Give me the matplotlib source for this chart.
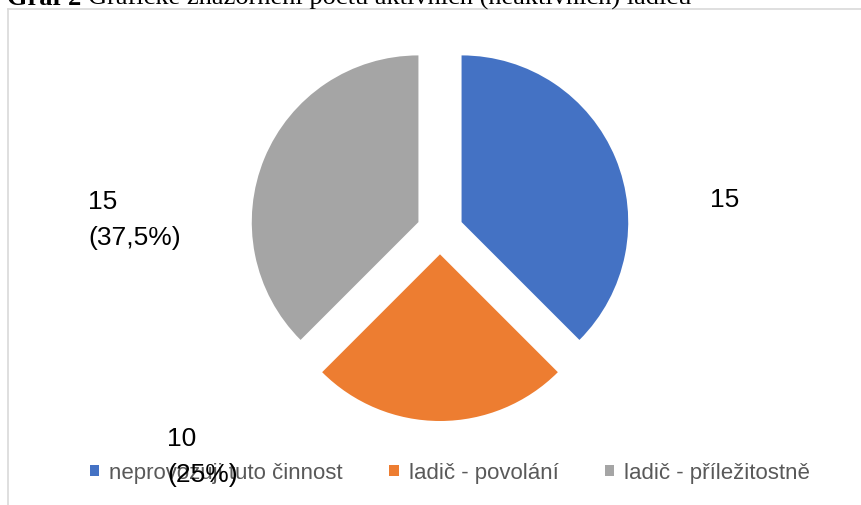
"""
Pie chart: active / inactive tuners (Graf 2).
"""
import matplotlib
matplotlib.use('Agg')
import matplotlib.pyplot as plt
from matplotlib.lines import Line2D
from matplotlib.patches import Patch

# Data
categories = ['neprovozuji tuto činnost', 'ladič - povolání', 'ladič - příležitostně']
values = [15, 10, 15]
colors = ['#4472C4', '#ED7D31', '#A5A5A5']
show_pct = [False, True, True]

title_bold = 'Graf 2 '
title_rest = 'Grafické znázornění počtu aktivních (neaktivních) ladičů'

W, H = 861, 506
fig = plt.figure(figsize=(W / 100, H / 100), dpi=100)
fig.patch.set_facecolor('white')

def fx(px):
    return px / W

def fy(py):
    return 1 - py / H

# chart frame (top and left edges visible only)
fig.add_artist(Line2D([fx(8), 1], [fy(10), fy(10)], color='#d9d9d9', lw=1.2))
fig.add_artist(Line2D([fx(8), fx(8)], [fy(10), 0], color='#d9d9d9', lw=1.2))

# pie axes: square box of 400px centred on (440, 232)
cx, cy, half = 440, 232, 200
ax = fig.add_axes([fx(cx - half), fy(cy + half), 2 * half / W, 2 * half / H])
ax.pie(values, colors=colors, startangle=90, counterclock=False,
       explode=[0.14] * len(values),
       wedgeprops=dict(linewidth=0))
ax.set_xlim(-1.2, 1.2)
ax.set_ylim(-1.2, 1.2)
ax.axis('off')

# data labels (position = baseline of the last line)
total = sum(values)
label_pos = [(710, 207), (167, 482), (88, 245)]
lab_font = dict(family='Liberation Sans', fontsize=19, color='#000000')
for v, show, (px, py) in zip(values, show_pct, label_pos):
    txt = str(v)
    if show:
        pct = ('%.1f' % (100 * v / total)).rstrip('0').rstrip('.').replace('.', ',')
        txt += '\n(' + pct + '%)'
    fig.text(fx(px), fy(py), txt, ha='left', va='baseline', linespacing=1.65,
             zorder=10, **lab_font)

# legend
handles = [Patch(facecolor=c, edgecolor='none') for c in colors]
leg = fig.legend(handles, categories, loc='center', bbox_to_anchor=(fx(450), fy(474)),
                 ncol=3, frameon=False, handlelength=0.42, handleheight=0.42,
                 handletextpad=0.45, columnspacing=2.1,
                 prop={'family': 'Liberation Sans', 'size': 16})
for t in leg.get_texts():
    t.set_color('#595959')

# title, cut off at the top of the picture
t1 = fig.text(fx(7), fy(5), title_bold, fontsize=19, family='Liberation Serif',
              weight='bold', va='baseline', ha='left')
fig.canvas.draw()
bb = t1.get_window_extent()
fig.text(bb.x1 / W, fy(5), title_rest, fontsize=19, family='Liberation Serif',
         va='baseline', ha='left')

fig.savefig('out.png', dpi=100, facecolor='white')
